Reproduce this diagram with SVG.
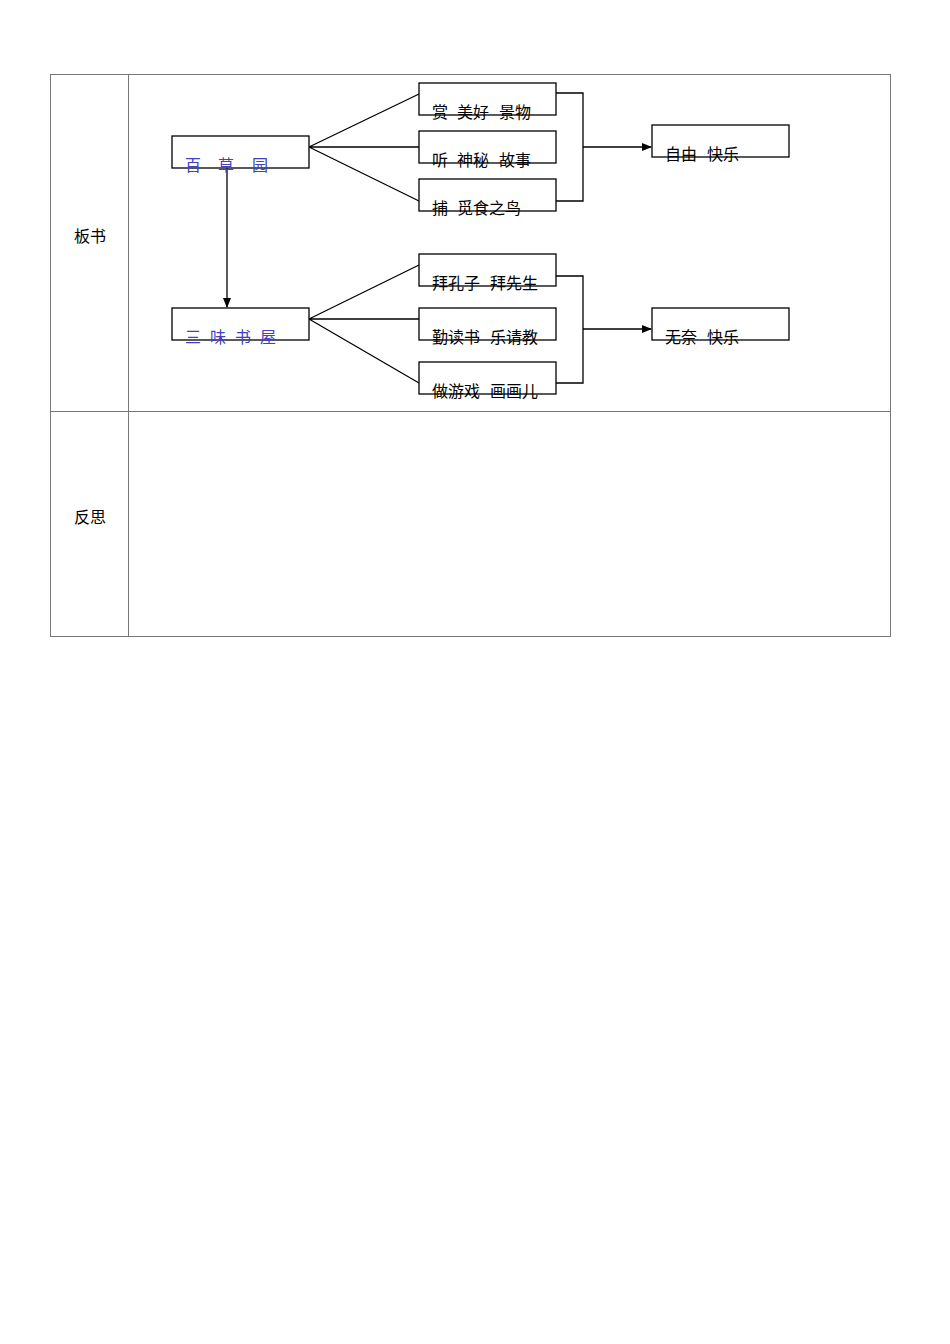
<svg xmlns="http://www.w3.org/2000/svg" width="950" height="1344" viewBox="0 0 950 1344">
<style>
.t{font-family:"Liberation Serif","Noto Sans CJK SC",serif;font-size:16px;fill:#000}
.b{fill:#4040c0}
.bx{fill:#fff;stroke:#000;stroke-width:1.3}
.ln{stroke:#000;stroke-width:1.3;fill:none}
.g{stroke:#777;stroke-width:1;fill:none}
</style>
<defs><marker id="a" markerWidth="10" markerHeight="10" refX="9" refY="5" orient="auto" markerUnits="userSpaceOnUse"><path d="M0,1 L10,5 L0,9Z" fill="#000"/></marker></defs>
<rect width="950" height="1344" fill="#fff"/>
<g id="table">
<rect class="g" x="50.5" y="74.5" width="840" height="562"/>
<line class="g" x1="128.5" y1="74.5" x2="128.5" y2="636.5"/>
<line class="g" x1="50.5" y1="411.5" x2="890.5" y2="411.5"/>
<text class="t" x="74" y="242">板书</text>
<text class="t" x="74" y="523">反思</text>
</g>
<g id="connectors">
<path class="ln" d="M309,147 L419,94 M309,147 L419,147 M309,147 L419,201"/>
<path class="ln" d="M309,319 L419,265 M309,319 L419,319 M309,319 L419,383"/>
<path class="ln" d="M556,93 H583 V201 H556"/>
<path class="ln" d="M556,276 H583 V383 H556"/>
<line class="ln" x1="583" y1="147" x2="651" y2="147" marker-end="url(#a)"/>
<line class="ln" x1="583" y1="329" x2="651" y2="329" marker-end="url(#a)"/>
<line class="ln" x1="227" y1="168" x2="227" y2="307" marker-end="url(#a)"/>
</g>
<g id="n1"><rect class="bx" x="172" y="136" width="137" height="32"/><text class="t b" y="171"><tspan x="185">百</tspan><tspan x="218">草</tspan><tspan x="252">园</tspan></text></g>
<g id="n2"><rect class="bx" x="172" y="308" width="137" height="32"/><text class="t b" y="343"><tspan x="185">三</tspan><tspan x="210">味</tspan><tspan x="235">书</tspan><tspan x="260">屋</tspan></text></g>
<g id="n3"><rect class="bx" x="419" y="83" width="137" height="32"/><text class="t" y="118"><tspan x="432">赏</tspan><tspan x="457">美好</tspan><tspan x="499">景物</tspan></text></g>
<g id="n4"><rect class="bx" x="419" y="131" width="137" height="32"/><text class="t" y="166"><tspan x="432">听</tspan><tspan x="457">神秘</tspan><tspan x="499">故事</tspan></text></g>
<g id="n5"><rect class="bx" x="419" y="179" width="137" height="32"/><text class="t" y="214"><tspan x="432">捕</tspan><tspan x="457">觅食之鸟</tspan></text></g>
<g id="n6"><rect class="bx" x="419" y="254" width="137" height="32"/><text class="t" y="289"><tspan x="432">拜孔子</tspan><tspan x="490">拜先生</tspan></text></g>
<g id="n7"><rect class="bx" x="419" y="308" width="137" height="32"/><text class="t" y="343"><tspan x="432">勤读书</tspan><tspan x="490">乐请教</tspan></text></g>
<g id="n8"><rect class="bx" x="419" y="362" width="137" height="32"/><text class="t" y="397"><tspan x="432">做游戏</tspan><tspan x="490">画画儿</tspan></text></g>
<g id="n9"><rect class="bx" x="652" y="125" width="137" height="32"/><text class="t" y="160"><tspan x="665">自由</tspan><tspan x="707">快乐</tspan></text></g>
<g id="n10"><rect class="bx" x="652" y="308" width="137" height="32"/><text class="t" y="343"><tspan x="665">无奈</tspan><tspan x="707">快乐</tspan></text></g>
</svg>
